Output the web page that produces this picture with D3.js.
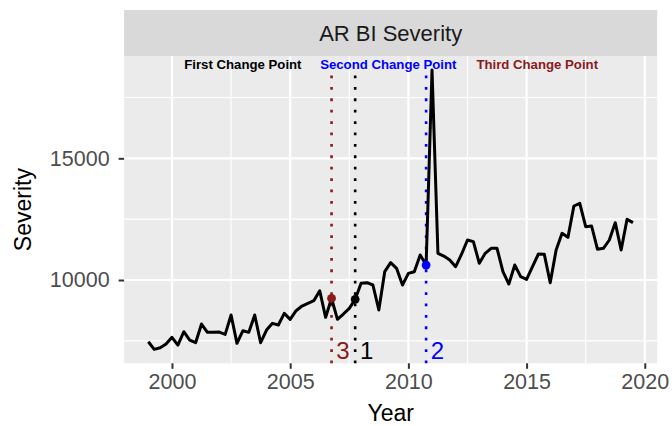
<!DOCTYPE html>
<html>
<head>
<meta charset="utf-8">
<script src="https://cdn.jsdelivr.net/npm/d3@7"></script>
<style>
  html, body { margin: 0; padding: 0; background: #ffffff; }
  svg { display: block; font-family: "Liberation Sans", Arial, Helvetica, sans-serif; }
</style>
</head>
<body>
<svg id="chart" width="672" height="426"></svg>
<script>
// ---- data ----
const startYear = 1999;
const severity = [
  7464, 7152, 7218, 7370,
  7645, 7328, 7875, 7534,
  7423, 8192, 7850, 7850,
  7863, 7768, 8561, 7398,
  7916, 7850, 8561, 7423,
  7945, 8220, 8150, 8630,
  8385, 8739, 8931, 9042,
  9150, 9560, 8467, 9248,
  8385, 8603, 8837, 9206,
  9863, 9890, 9795, 8767,
  10342, 10712, 10480, 9795,
  10274, 10342, 11027, 10616,
  18630, 11097, 10986, 10822,
  10548, 11060, 11644, 11575,
  10685, 11096, 11302, 11302,
  10342, 9836, 10616, 10137,
  10027, 10548, 11069, 11055,
  9890, 11233, 11918, 11753,
  13041, 13151, 12192, 12219,
  11260, 11302, 11644, 12356,
  11233, 12493, 12356
];
const quarters = severity.map((_, i) => startYear + i / 4);

const changeYears  = [2007.75, 2010.75, 2006.75];
const changeNums   = ["1", "2", "3"];
const changeNames  = ["First Change Point", "Second Change Point", "Third Change Point"];
const changeColors = ["#000000", "#0000FF", "#8B1A1A"];

const xTicks = [2000, 2005, 2010, 2015, 2020];
const xMinor = [2002.5, 2007.5, 2012.5, 2017.5];
const yTicks = [10000, 15000];
const yMinor = [7500, 12500, 17500];

const stripTitle = "AR BI Severity";
const xTitle = "Year";
const yTitle = "Severity";

// ---- layout ----
const P = { left: 124.1, right: 657.2, top: 56, bottom: 363.3 };
const stripTop = 10;

const svg = d3.select("#chart");

const xExt = d3.extent(quarters);
const xPad = (xExt[1] - xExt[0]) * 0.05;
const x = d3.scaleLinear().domain([xExt[0] - xPad, xExt[1] + xPad]).range([P.left, P.right]);
const yExt = d3.extent(severity);
const yPad = (yExt[1] - yExt[0]) * 0.05;
const y = d3.scaleLinear().domain([yExt[0] - yPad, yExt[1] + yPad]).range([P.bottom, P.top]);

// strip
svg.append("rect").attr("x", P.left).attr("y", stripTop)
  .attr("width", P.right - P.left).attr("height", P.top - stripTop).attr("fill", "#D9D9D9");
svg.append("text").attr("x", (P.left + P.right) / 2).attr("y", 41)
  .attr("text-anchor", "middle").attr("font-size", 22).attr("fill", "#1A1A1A").text(stripTitle);

// panel
svg.append("rect").attr("x", P.left).attr("y", P.top)
  .attr("width", P.right - P.left).attr("height", P.bottom - P.top).attr("fill", "#EBEBEB");

const grid = svg.append("g");
grid.selectAll(".ymin").data(yMinor).join("line")
  .attr("x1", P.left).attr("x2", P.right).attr("y1", d => y(d)).attr("y2", d => y(d))
  .attr("stroke", "#fff").attr("stroke-width", 1.1);
grid.selectAll(".xmin").data(xMinor).join("line")
  .attr("y1", P.top).attr("y2", P.bottom).attr("x1", d => x(d)).attr("x2", d => x(d))
  .attr("stroke", "#fff").attr("stroke-width", 1.1);
grid.selectAll(".ymaj").data(yTicks).join("line")
  .attr("x1", P.left).attr("x2", P.right).attr("y1", d => y(d)).attr("y2", d => y(d))
  .attr("stroke", "#fff").attr("stroke-width", 2.2);
grid.selectAll(".xmaj").data(xTicks).join("line")
  .attr("y1", P.top).attr("y2", P.bottom).attr("x1", d => x(d)).attr("x2", d => x(d))
  .attr("stroke", "#fff").attr("stroke-width", 2.2);

// axes
const xAxis = d3.axisBottom(x).tickValues(xTicks).tickFormat(d3.format("d")).tickSize(5.5).tickPadding(5);
const gx = svg.append("g").attr("transform", `translate(0,${P.bottom})`).call(xAxis);
gx.select(".domain").remove();
gx.selectAll(".tick line").attr("stroke", "#333333").attr("stroke-width", 2);
gx.selectAll(".tick text").attr("font-size", 21.5).attr("fill", "#4D4D4D")
  .attr("font-family", "Liberation Sans, Arial, sans-serif");

const yAxis = d3.axisLeft(y).tickValues(yTicks).tickFormat(d3.format("d")).tickSize(5.5).tickPadding(9);
const gy = svg.append("g").attr("transform", `translate(${P.left},0)`).call(yAxis);
gy.select(".domain").remove();
gy.selectAll(".tick line").attr("stroke", "#333333").attr("stroke-width", 2);
gy.selectAll(".tick text").attr("font-size", 21.5).attr("fill", "#4D4D4D")
  .attr("font-family", "Liberation Sans, Arial, sans-serif");

svg.append("text").attr("x", (P.left + P.right) / 2).attr("y", 421)
  .attr("text-anchor", "middle").attr("font-size", 23).attr("fill", "#000").text(xTitle);
svg.append("text").attr("transform", `translate(31,${(P.top + P.bottom) / 2}) rotate(-90)`)
  .attr("text-anchor", "middle").attr("font-size", 23).attr("fill", "#000").text(yTitle);

// change point dotted lines
const segTop = 18400;
svg.append("g").selectAll("line").data(changeYears).join("line")
  .attr("x1", d => x(d)).attr("x2", d => x(d))
  .attr("y1", y(segTop)).attr("y2", P.bottom)
  .attr("stroke", (d, i) => changeColors[i]).attr("stroke-width", 2.6)
  .attr("stroke-dasharray", "2.8,8.6");

// series line
const line = d3.line().x((d, i) => x(quarters[i])).y(d => y(d));
svg.append("path").datum(severity).attr("d", line)
  .attr("fill", "none").attr("stroke", "#000").attr("stroke-width", 3)
  .attr("stroke-linejoin", "round");

// change points
svg.append("g").selectAll("circle").data(changeYears).join("circle")
  .attr("cx", d => x(d))
  .attr("cy", d => y(severity[quarters.indexOf(d)]))
  .attr("r", 4.4)
  .attr("fill", (d, i) => changeColors[i]);

// numbers near bottom
svg.append("g").selectAll("text").data(changeYears).join("text")
  .attr("x", d => x(d + 0.2))
  .attr("y", 359)
  .attr("font-size", 24)
  .attr("fill", (d, i) => changeColors[i])
  .text((d, i) => changeNums[i]);

// header labels
const headerX = [2003.0, 2009.15, 2015.45];
svg.append("g").selectAll("text").data(changeNames).join("text")
  .attr("x", (d, i) => x(headerX[i]))
  .attr("y", P.top + 12.5)
  .attr("text-anchor", "middle")
  .attr("font-size", 13.2).attr("font-weight", "bold")
  .attr("fill", (d, i) => changeColors[i])
  .text(d => d);
</script>
</body>
</html>
